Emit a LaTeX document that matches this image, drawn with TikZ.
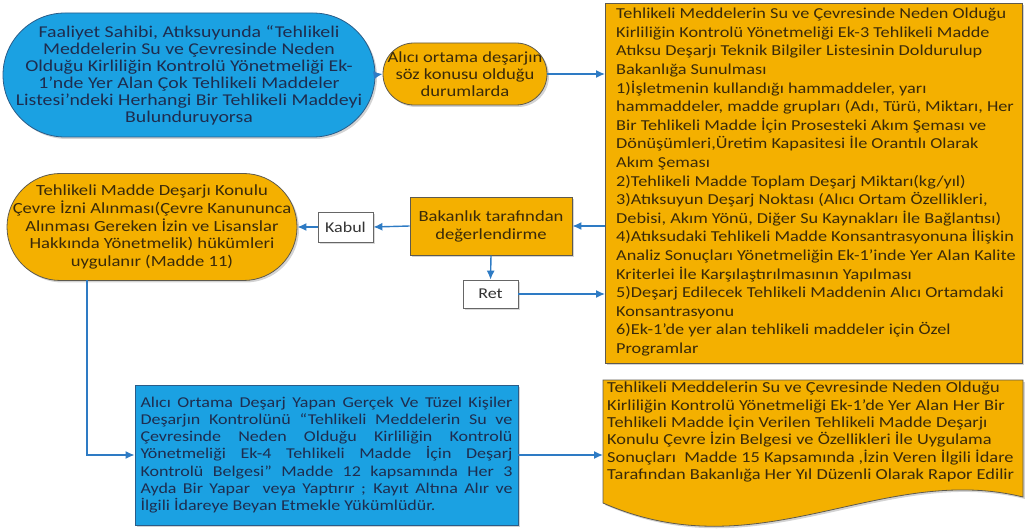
\documentclass[tikz,border=0pt]{standalone}
\usepackage{fontspec}
\setmainfont{Carlito}[FakeStretch=1.2]
\usetikzlibrary{arrows.meta,shapes.misc,shadows}
\definecolor{gold}{HTML}{F4B000}
\definecolor{goldline}{HTML}{5E5A4E}
\definecolor{cyanfill}{HTML}{1BA1E2}
\definecolor{cyanline}{HTML}{2A5C88}
\definecolor{arrowblue}{HTML}{2E7BC4}
\definecolor{txtbrown}{HTML}{3A2A0A}
\definecolor{txtnavy}{HTML}{1E2D4F}
\tikzset{
  goldbox/.style={draw=goldline, line width=0.8pt, fill=gold, drop shadow={opacity=0.35,shadow xshift=2pt,shadow yshift=-2pt}},
  bluebox/.style={draw=cyanline, line width=0.8pt, fill=cyanfill, drop shadow={opacity=0.35,shadow xshift=2pt,shadow yshift=-2pt}},
  whitebox/.style={draw=gray!80!black, line width=0.8pt, fill=white, text=black!80, drop shadow={opacity=0.3,shadow xshift=2pt,shadow yshift=-2pt}, font=\fontsize{15}{17}\selectfont, inner sep=0pt},
  btext/.style={text=txtbrown, align=center, inner sep=0pt},
  ntext/.style={text=txtnavy, inner sep=0pt},
  arr/.style={draw=arrowblue, line width=1.4pt, -{Latex[length=9pt,width=8pt]}}
}
\begin{document}
\begin{tikzpicture}[x=1pt,y=-1pt]
\useasboundingbox (0,0) rectangle (1025,529);

% top left blue stadium
\node[bluebox, rounded rectangle, minimum width=372pt, minimum height=124pt, inner sep=0pt] (e1) at (189,75) {};
\node[ntext, align=center, font=\fontsize{16.5}{17}\selectfont] (e1t) at (e1.center) {Faaliyet Sahibi, Atıksuyunda “Tehlikeli\\Meddelerin Su ve Çevresinde Neden\\Olduğu Kirliliğin Kontrolü Yönetmeliği Ek-\\1’nde Yer Alan Çok Tehlikeli Maddeler\\Listesi’ndeki Herhangi Bir Tehlikeli Maddeyi\\Bulunduruyorsa};

% small gold stadium
\node[goldbox, rounded rectangle, minimum width=164pt, minimum height=62pt, inner sep=0pt] (o1) at (465,74) {};
\node[btext, font=\fontsize{15.5}{16.7}\selectfont] (o1t) at (o1.center) {Alıcı ortama deşarjın\\söz konusu olduğu\\durumlarda};

% right big box
\node[goldbox, anchor=north west, minimum width=417pt, minimum height=360pt, inner sep=0pt] (rb) at (605,3) {};
\node[text=txtbrown, align=left, anchor=north west, inner sep=0pt, font=\fontsize{15.2}{18.6}\selectfont] (rbt) at (616,8) {Tehlikeli Meddelerin Su ve Çevresinde Neden Olduğu\\Kirliliğin Kontrolü Yönetmeliği Ek-3 Tehlikeli Madde\\Atıksu Deşarjı Teknik Bilgiler Listesinin Doldurulup\\Bakanlığa Sunulması\\1)İşletmenin kullandığı hammaddeler, yarı\\hammaddeler, madde grupları (Adı, Türü, Miktarı, Her\\Bir Tehlikeli Madde İçin Prosesteki Akım Şeması ve\\Dönüşümleri,Üretim Kapasitesi İle Orantılı Olarak\\Akım Şeması\\2)Tehlikeli Madde Toplam Deşarj Miktarı(kg/yıl)\\3)Atıksuyun Deşarj Noktası (Alıcı Ortam Özellikleri,\\Debisi, Akım Yönü, Diğer Su Kaynakları İle Bağlantısı)\\4)Atıksudaki Tehlikeli Madde Konsantrasyonuna İlişkin\\Analiz Sonuçları Yönetmeliğin Ek-1’inde Yer Alan Kalite\\Kriterlei İle Karşılaştırılmasının Yapılması\\5)Deşarj Edilecek Tehlikeli Maddenin Alıcı Ortamdaki\\Konsantrasyonu\\6)Ek-1’de yer alan tehlikeli maddeler için Özel\\Programlar};

% Bakanlik box
\node[goldbox, minimum width=162pt, minimum height=58pt, inner sep=0pt] (bak) at (491,226) {};
\node[btext, font=\fontsize{15.5}{18}\selectfont] (bakt) at (bak.center) {Bakanlık tarafından\\değerlendirme};

% Kabul, Ret
\node[whitebox, minimum width=55pt, minimum height=30pt] (kab) at (345.5,227) {Kabul};
\node[whitebox, minimum width=55pt, minimum height=28pt] (ret) at (490.5,294) {Ret};

% left gold stadium
\node[goldbox, rounded rectangle, minimum width=290pt, minimum height=107pt, inner sep=0pt] (le) at (152,227) {};
\node[btext, font=\fontsize{15.5}{17.7}\selectfont] (let) at (le.center) {Tehlikeli Madde Deşarjı Konulu\\Çevre İzni Alınması(Çevre Kanununca\\Alınması Gereken İzin ve Lisanslar\\Hakkında Yönetmelik) hükümleri\\uygulanır (Madde 11)};

% bottom blue box
\node[bluebox, minimum width=383pt, minimum height=140pt, inner sep=0pt] (bb) at (326.5,455) {};
\node[ntext, align=left, font=\fontsize{15}{17.3}\selectfont] (bbt) at (bb.center) {%
\makebox[372pt][s]{Alıcı Ortama Deşarj Yapan Gerçek Ve Tüzel Kişiler}\\
\makebox[372pt][s]{Deşarjın Kontrolünü “Tehlikeli Meddelerin Su ve}\\
\makebox[372pt][s]{Çevresinde Neden Olduğu Kirliliğin Kontrolü}\\
\makebox[372pt][s]{Yönetmeliği Ek-4 Tehlikeli Madde İçin Deşarj}\\
\makebox[372pt][s]{Kontrolü Belgesi” Madde 12 kapsamında Her 3}\\
\makebox[372pt][s]{Ayda Bir Yapar \ veya Yaptırır ; Kayıt Altına Alır ve}\\
\makebox[372pt][l]{İlgili İdareye Beyan Etmekle Yükümlüdür.}};

% wavy document box
\coordinate (wnw) at (603,380);
\coordinate (wne) at (1023,380);
\coordinate (wse) at (1023,497);
\coordinate (wsw) at (603,503);
\coordinate (wbw) at (603,455);
\path[goldbox] (wnw) -- (wne) -- (wse) .. controls (880,462) and (760,572) .. (wsw) -- cycle;
\node[text=txtbrown, align=left, anchor=north west, inner sep=0pt, font=\fontsize{15.3}{17.3}\selectfont] (wbt) at (607,382) {Tehlikeli Meddelerin Su ve Çevresinde Neden Olduğu\\Kirliliğin Kontrolü Yönetmeliği Ek-1’de Yer Alan Her Bir\\Tehlikeli Madde İçin Verilen Tehlikeli Madde Deşarjı\\Konulu Çevre İzin Belgesi ve Özellikleri İle Uygulama\\Sonuçları \ Madde 15 Kapsamında ,İzin Veren İlgili İdare\\Tarafından Bakanlığa Her Yıl Düzenli Olarak Rapor Edilir};

% connectors
\draw[arr] (e1.east) -- (o1.west);
\draw[arr] (o1.east) -- (o1.east -| rb.west);
\draw[arr] (bak.east -| rb.west) -- (bak.east);
\draw[arr] (bak.west) -- (kab.east);
\draw[arr] (kab.west) -- (le.east);
\draw[arr] (bak.south) -- (ret.north);
\draw[arr] (ret.east) -- (ret.east -| rb.west);
\coordinate (ld) at (87,280);
\draw[arr] (ld) |- (bb.west);
\draw[arr] (bb.east) -- (wbw);
\end{tikzpicture}
\end{document}
